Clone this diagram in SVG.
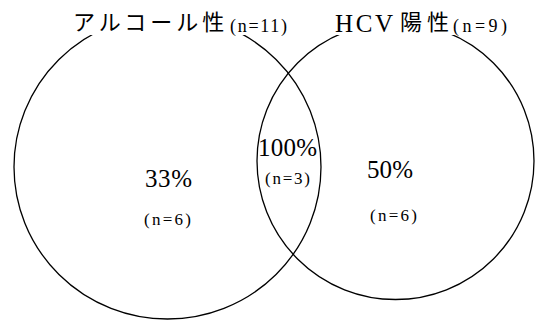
<svg xmlns="http://www.w3.org/2000/svg" width="536" height="320" viewBox="0 0 536 320">
<style>
.c{fill:none;stroke:#000;stroke-width:1.3}
.s{font-family:"Liberation Serif","DejaVu Serif",serif;fill:#000}
.j{font-family:"Noto Sans CJK JP","Noto Sans CJK SC",sans-serif;fill:#000;font-weight:400}
.bg{fill:#fff}
</style>
<rect width="536" height="320" fill="#fff"/>
<g id="connectors"/>
<g id="alcohol">
<ellipse class="c" cx="167.5" cy="167" rx="153.5" ry="152"/>
</g>
<g id="hcv">
<circle class="c" cx="395.5" cy="161" r="138.5"/>
</g>
<g id="label-alcohol">
<rect class="bg" x="71" y="8" width="222" height="27"/>
<text class="j" x="73" y="30" font-size="22" letter-spacing="4">アルコール性</text>
<text class="s" x="230" y="32" font-size="18" textLength="57" lengthAdjust="spacing">(n=11)</text>
</g>
<g id="label-hcv">
<rect class="bg" x="333" y="9" width="177" height="26"/>
<text class="s" x="335" y="32" font-size="25" textLength="58" lengthAdjust="spacing">HCV</text>
<text class="j" x="400" y="30" font-size="22" letter-spacing="5">陽性</text>
<text class="s" x="453" y="32" font-size="18" textLength="54" lengthAdjust="spacing">(n=9)</text>
</g>
<g id="region-alcohol">
<text class="s" x="145" y="187" font-size="25" textLength="47" lengthAdjust="spacing">33%</text>
<text class="s" x="144" y="225" font-size="17" textLength="47" lengthAdjust="spacing">(n=6)</text>
</g>
<g id="region-both">
<text class="s" x="258" y="156" font-size="25" textLength="59" lengthAdjust="spacing">100%</text>
<text class="s" x="265" y="184" font-size="17" textLength="45" lengthAdjust="spacing">(n=3)</text>
</g>
<g id="region-hcv">
<text class="s" x="367" y="178" font-size="25" textLength="46" lengthAdjust="spacing">50%</text>
<text class="s" x="370" y="221" font-size="17" textLength="47" lengthAdjust="spacing">(n=6)</text>
</g>
</svg>
